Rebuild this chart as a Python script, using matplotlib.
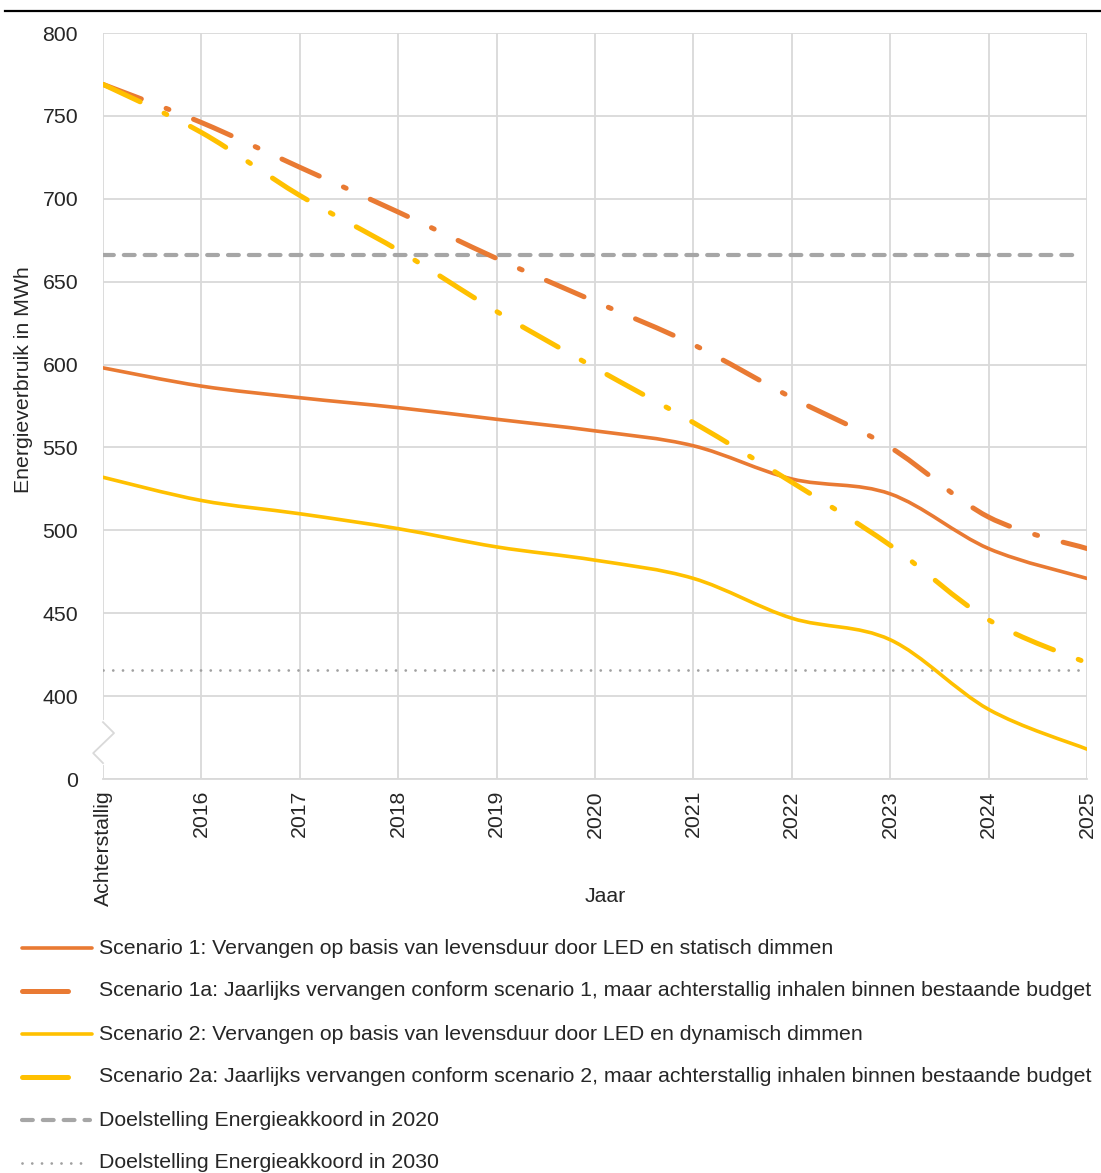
import numpy as np
import matplotlib
matplotlib.use("Agg")
import matplotlib.pyplot as plt
from matplotlib.path import Path
from matplotlib.patches import PathPatch
from matplotlib.lines import Line2D

plt.rcParams['font.family'] = ['Liberation Sans', 'DejaVu Sans']

# data
categories = ["Achterstallig", "2016", "2017", "2018", "2019", "2020",
              "2021", "2022", "2023", "2024", "2025"]
scenario_1 = [598, 587, 580, 574, 567, 560, 551, 531, 522, 489, 471]
scenario_1a = [769, 746, 719, 692, 664, 638, 612, 580, 550, 508, 489]
scenario_2 = [532, 518, 510, 501, 490, 482, 471, 447, 434, 392, 368]
scenario_2a = [769, 740, 702, 669, 632, 598, 565, 529, 491, 446, 420]
target_2020 = [666, 666]
target_2030 = [416, 416]
target_x = [0, 9.93]

ytick_values = [350, 400, 450, 500, 550, 600, 650, 700, 750, 800]
ytick_labels = ["0", "400", "450", "500", "550", "600", "650", "700", "750", "800"]

legend_labels = [
    "Scenario 1: Vervangen op basis van levensduur door LED en statisch dimmen",
    "Scenario 1a: Jaarlijks vervangen conform scenario 1, maar achterstallig inhalen binnen bestaande budget",
    "Scenario 2: Vervangen op basis van levensduur door LED en dynamisch dimmen",
    "Scenario 2a: Jaarlijks vervangen conform scenario 2, maar achterstallig inhalen binnen bestaande budget",
    "Doelstelling Energieakkoord in 2020",
    "Doelstelling Energieakkoord in 2030",
]

ORANGE = "#E97A33"
YELLOW = "#FFC000"
GRAY = "#A6A6A6"
GRID = "#D9D9D9"
TEXT = "#262626"
FS = 15.3


def smooth_path(xs, ys):
    # excel-like smoothed line as cubic bezier segments
    n = len(xs)
    verts = [(xs[0], ys[0])]
    codes = [Path.MOVETO]
    for i in range(n - 1):
        p0 = i - 1 if i > 0 else i
        p3 = i + 2 if i + 2 < n else i + 1
        c1 = (xs[i] + (xs[i + 1] - xs[p0]) / 6, ys[i] + (ys[i + 1] - ys[p0]) / 6)
        c2 = (xs[i + 1] - (xs[p3] - xs[i]) / 6, ys[i + 1] - (ys[p3] - ys[i]) / 6)
        verts += [c1, c2, (xs[i + 1], ys[i + 1])]
        codes += [Path.CURVE4] * 3
    return Path(verts, codes)


fig = plt.figure(figsize=(11.01, 11.73), dpi=100)
ax = fig.add_axes([103 / 1101, 1 - 779 / 1173, 984 / 1101, 746 / 1173])

x = np.arange(len(categories))

dashdot = (0, (8.2, 5.3, 0.6, 5.3))
series = [
    (scenario_1, ORANGE, 2.6, "solid"),
    (scenario_1a, ORANGE, 3.6, dashdot),
    (scenario_2, YELLOW, 2.6, "solid"),
    (scenario_2a, YELLOW, 3.6, dashdot),
]
for vals, col, lw, ls in series:
    patch = PathPatch(smooth_path(x, vals), fill=False, edgecolor=col,
                      linewidth=lw, linestyle=ls, zorder=3)
    patch.set_capstyle("round")
    patch.set_joinstyle("round")
    ax.add_patch(patch)

ax.plot(target_x, target_2020, color=GRAY, lw=3.0, dashes=(2.6, 2.4),
        dash_capstyle="round", zorder=2)
ax.plot(target_x, target_2030, color="#A0A0A0", lw=2.0, dashes=(0.01, 3.5),
        dash_capstyle="round", zorder=2)

ax.set_xlim(0, 10)
ax.set_ylim(350, 800)
ax.set_xticks(x)
ax.set_xticklabels(categories, rotation=90, fontsize=FS, color=TEXT)
ax.set_yticks(ytick_values)
ax.set_yticklabels(ytick_labels, fontsize=FS, color=TEXT)
ax.tick_params(axis="y", length=0, pad=18)
ax.tick_params(axis="x", length=0, pad=8)
ax.grid(True, color=GRID, lw=1.3, zorder=0)
ax.set_axisbelow(True)
for s in ["top", "right", "left"]:
    ax.spines[s].set_visible(False)
ax.spines["bottom"].set_color(GRID)
ax.spines["bottom"].set_linewidth(1.3)

# axis break on the left axis
ax.plot([0, 0], [359.6, 384.3], color="white", lw=3, zorder=1, clip_on=False)
ax.plot([0, 0.112, -0.1, 0], [384.3, 377.7, 365.6, 359.6], color=GRID,
        lw=1.3, zorder=2, clip_on=False)

ax.set_ylabel("Energieverbruik in MWh", fontsize=FS, color=TEXT)
ax.yaxis.set_label_coords(-70 / 984, 0.535)
fig.text(605 / 1101, 1 - 896 / 1173, "Jaar", fontsize=FS, color=TEXT,
         ha="center", va="center")

# top rule
fig.add_artist(Line2D([5 / 1101, 1.0], [1 - 11 / 1173] * 2, color="black", lw=1.6))

# manual legend
rows = [948, 991, 1034, 1077, 1120, 1163]
handles = [
    dict(color=ORANGE, lw=2.6, x1=92, ls="-"),
    dict(color=ORANGE, lw=3.6, x1=68, ls="-"),
    dict(color=YELLOW, lw=2.6, x1=92, ls="-"),
    dict(color=YELLOW, lw=3.6, x1=68, ls="-"),
    dict(color=GRAY, lw=3.0, x1=90, ls="--"),
    dict(color="#A0A0A0", lw=2.0, x1=82, ls=":"),
]
for yy, h, lab in zip(rows, handles, legend_labels):
    yf = 1 - yy / 1173
    ln = Line2D([22 / 1101, h["x1"] / 1101], [yf, yf], color=h["color"], lw=h["lw"],
                solid_capstyle="round", dash_capstyle="round")
    if h["ls"] == "--":
        ln.set_dashes((2.6, 2.4))
    elif h["ls"] == ":":
        ln.set_dashes((0.01, 3.5))
    fig.add_artist(ln)
    fig.text(99 / 1101, yf, lab, fontsize=FS, color=TEXT, ha="left", va="center")

fig.savefig("out.png", dpi=100)
